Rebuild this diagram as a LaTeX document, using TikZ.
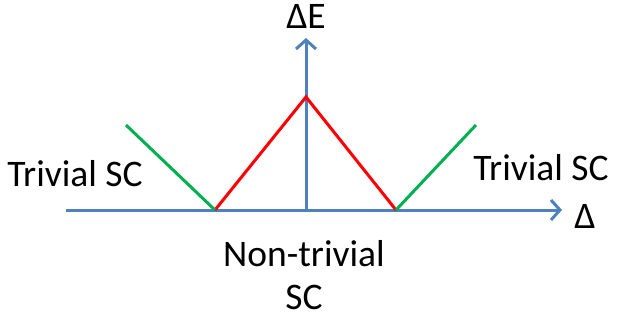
\documentclass[tikz,border=0pt]{standalone}
\usepackage{fontspec}
\setmainfont{Carlito}
\usetikzlibrary{arrows.meta,positioning}
\definecolor{AxisBlue}{HTML}{4F81BD}
\definecolor{GapRed}{HTML}{FF0000}
\definecolor{GapGreen}{HTML}{00B050}

\begin{document}
\begin{tikzpicture}[x=1pt,y=-1pt,
    axis/.style={AxisBlue,line width=3pt,-{Straight Barb[length=9pt,width=20pt,line width=3pt]}},
    gap/.style={line width=3pt,line join=miter},
    lbl/.style={font=\fontsize{37.5}{43}\selectfont,inner sep=0pt}]
  \useasboundingbox (0,0) rectangle (618,322);
  % axes
  \coordinate (xstart) at (66,210);
  \coordinate (xend) at (562,210);
  \coordinate (origin) at (306,210);
  \coordinate (yend) at (306,38);
  \draw[axis] (xstart) -- (xend);
  \draw[axis] (origin) -- (yend);
  % gap closing points
  \coordinate (lzero) at (215,210);
  \coordinate (rzero) at (396,210);
  \coordinate (apex) at (306,97);
  \coordinate (ltop) at (126,125);
  \coordinate (rtop) at (476,125);
  \draw[gap,GapRed] (lzero) -- (apex) -- (rzero);
  \draw[gap,GapGreen] (lzero) -- (ltop);
  \draw[gap,GapGreen] (rzero) -- (rtop);
  % labels
  \node[lbl] (dE) at (306,16) {ΔE};
  \node[lbl] (dlt) at (585,216) {Δ};
  \node[lbl] (trivL) at (75,174) {Trivial SC};
  \node[lbl] (trivR) at (541,168) {Trivial SC};
  \node[lbl,align=center] (nontriv) at (304,275) {Non-trivial\\SC};
\end{tikzpicture}
\end{document}
